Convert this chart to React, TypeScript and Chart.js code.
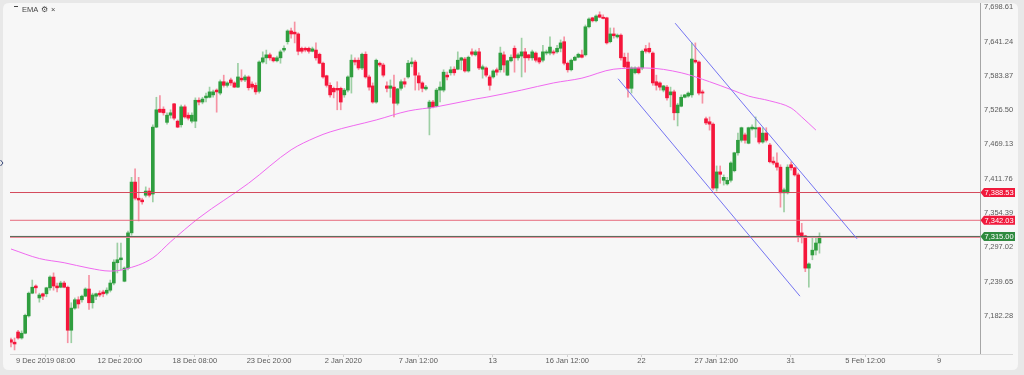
import React, { useEffect, useRef } from 'react';
import { Chart, registerables } from 'chart.js';

Chart.register(...registerables);

const FONT = "'Liberation Sans', Arial, sans-serif";

// ---- Candle data (4-hour candles) ----
const opens = [
  7142, 7138, 7155, 7145, 7153, 7182, 7220, 7232, 7212, 7219,
  7219, 7229, 7247, 7232, 7230, 7237, 7230, 7158, 7195, 7209,
  7209, 7215, 7227, 7204, 7215, 7220, 7222, 7220, 7225, 7237,
  7271, 7276, 7240, 7262, 7321, 7406, 7379, 7376, 7384, 7391,
  7386, 7498, 7528, 7528, 7506, 7518, 7537, 7508, 7502, 7532,
  7518, 7508, 7508, 7543, 7540, 7547, 7548, 7552, 7560, 7555,
  7574, 7568, 7577, 7572, 7565, 7580, 7577, 7582, 7570, 7568,
  7558, 7607, 7614, 7619, 7614, 7609, 7614, 7627, 7641, 7659,
  7657, 7654, 7630, 7630, 7630, 7625, 7627, 7620, 7605, 7584,
  7568, 7563, 7563, 7563, 7552, 7560, 7582, 7610, 7610, 7597,
  7620, 7582, 7567, 7540, 7605, 7602, 7567, 7563, 7565, 7538,
  7563, 7574, 7582, 7604, 7607, 7584, 7572, 7562, 7530, 7540,
  7533, 7560, 7560, 7585, 7589, 7595, 7595, 7610, 7612, 7592,
  7624, 7619, 7624, 7595, 7597, 7582, 7582, 7594, 7594, 7619,
  7585, 7609, 7630, 7614, 7617, 7624, 7619, 7614, 7622, 7614,
  7610, 7622, 7622, 7624, 7624, 7630, 7641, 7605, 7594, 7610,
  7615, 7619, 7619, 7666, 7681, 7676, 7686, 7682, 7681, 7641,
  7654, 7649, 7652, 7615, 7607, 7563, 7589, 7597, 7597, 7629,
  7630, 7622, 7574, 7572, 7560, 7565, 7552, 7557, 7522, 7533,
  7548, 7550, 7552, 7610, 7607, 7557, 7512, 7507, 7503, 7396,
  7423, 7409, 7403, 7409, 7425, 7455, 7476, 7485, 7471, 7495,
  7495, 7497, 7473, 7488, 7468, 7441, 7438, 7431, 7388, 7388,
  7435, 7430, 7418, 7321, 7316, 7262, 7284, 7292, 7304,
];
const highs = [
  7145, 7145, 7158, 7157, 7185, 7222, 7242, 7234, 7220, 7220,
  7230, 7249, 7254, 7237, 7240, 7240, 7232, 7204, 7212, 7214,
  7217, 7229, 7250, 7220, 7220, 7224, 7225, 7229, 7242, 7276,
  7304, 7304, 7264, 7324, 7414, 7428, 7414, 7379, 7398, 7396,
  7502, 7548, 7551, 7532, 7522, 7527, 7538, 7510, 7535, 7535,
  7522, 7522, 7547, 7547, 7548, 7555, 7565, 7560, 7562, 7577,
  7585, 7574, 7580, 7574, 7605, 7594, 7585, 7584, 7574, 7572,
  7609, 7624, 7627, 7622, 7615, 7617, 7627, 7634, 7661, 7664,
  7674, 7656, 7632, 7632, 7632, 7632, 7639, 7622, 7607, 7585,
  7572, 7565, 7574, 7565, 7563, 7584, 7619, 7614, 7614, 7622,
  7624, 7585, 7572, 7612, 7607, 7605, 7574, 7577, 7585, 7563,
  7577, 7580, 7610, 7614, 7610, 7589, 7574, 7568, 7543, 7543,
  7563, 7574, 7594, 7590, 7599, 7599, 7624, 7615, 7615, 7617,
  7629, 7627, 7630, 7602, 7599, 7585, 7594, 7597, 7632, 7624,
  7610, 7619, 7634, 7622, 7647, 7630, 7620, 7627, 7624, 7615,
  7635, 7627, 7649, 7627, 7635, 7644, 7649, 7607, 7612, 7617,
  7622, 7627, 7669, 7681, 7682, 7686, 7691, 7686, 7682, 7664,
  7664, 7654, 7654, 7622, 7622, 7599, 7599, 7599, 7627, 7635,
  7639, 7624, 7585, 7574, 7568, 7568, 7565, 7560, 7538, 7552,
  7553, 7557, 7639, 7639, 7609, 7560, 7515, 7515, 7505, 7433,
  7433, 7418, 7414, 7440, 7456, 7488, 7498, 7488, 7498, 7502,
  7515, 7498, 7497, 7497, 7471, 7448, 7455, 7435, 7396, 7435,
  7440, 7431, 7421, 7337, 7317, 7271, 7312, 7312, 7321,
];
const lows = [
  7130, 7125, 7143, 7143, 7152, 7180, 7219, 7220, 7205, 7209,
  7214, 7225, 7225, 7222, 7229, 7229, 7137, 7137, 7193, 7195,
  7205, 7214, 7193, 7195, 7209, 7214, 7214, 7217, 7222, 7234,
  7254, 7259, 7239, 7259, 7317, 7376, 7341, 7369, 7381, 7381,
  7373, 7497, 7522, 7518, 7503, 7513, 7510, 7497, 7498, 7513,
  7510, 7505, 7497, 7535, 7537, 7540, 7547, 7548, 7523, 7552,
  7565, 7565, 7568, 7564, 7564, 7574, 7574, 7560, 7562, 7553,
  7555, 7605, 7604, 7610, 7607, 7607, 7605, 7624, 7637, 7647,
  7639, 7619, 7622, 7624, 7622, 7624, 7610, 7604, 7580, 7565,
  7548, 7547, 7527, 7527, 7548, 7557, 7555, 7602, 7594, 7594,
  7580, 7560, 7538, 7538, 7599, 7582, 7557, 7548, 7515, 7535,
  7560, 7565, 7580, 7599, 7560, 7560, 7557, 7560, 7485, 7530,
  7532, 7540, 7557, 7577, 7585, 7585, 7594, 7594, 7590, 7590,
  7617, 7617, 7594, 7580, 7582, 7560, 7580, 7585, 7590, 7590,
  7584, 7607, 7590, 7610, 7582, 7590, 7610, 7610, 7607, 7604,
  7607, 7619, 7619, 7619, 7622, 7624, 7602, 7590, 7592, 7609,
  7614, 7614, 7617, 7664, 7674, 7674, 7681, 7679, 7637, 7639,
  7647, 7647, 7610, 7597, 7548, 7555, 7587, 7587, 7594, 7622,
  7622, 7568, 7560, 7560, 7557, 7543, 7532, 7510, 7500, 7532,
  7547, 7548, 7548, 7605, 7552, 7538, 7502, 7493, 7393, 7391,
  7404, 7401, 7401, 7406, 7423, 7451, 7473, 7471, 7470, 7493,
  7481, 7470, 7471, 7473, 7438, 7435, 7426, 7364, 7356, 7386,
  7426, 7416, 7306, 7304, 7256, 7230, 7276, 7284, 7287,
];
const closes = [
  7138, 7135, 7145, 7153, 7183, 7220, 7230, 7229, 7217, 7215,
  7229, 7247, 7232, 7229, 7237, 7230, 7158, 7195, 7209, 7202,
  7215, 7227, 7204, 7217, 7219, 7217, 7219, 7225, 7237, 7272,
  7276, 7279, 7262, 7321, 7406, 7379, 7376, 7373, 7391, 7384,
  7498, 7527, 7523, 7522, 7518, 7522, 7513, 7498, 7532, 7515,
  7513, 7518, 7543, 7540, 7545, 7550, 7557, 7557, 7557, 7574,
  7568, 7572, 7572, 7565, 7582, 7577, 7582, 7564, 7565, 7557,
  7607, 7614, 7619, 7614, 7609, 7614, 7624, 7630, 7659, 7654,
  7654, 7625, 7625, 7627, 7625, 7629, 7614, 7605, 7582, 7568,
  7552, 7557, 7560, 7540, 7560, 7582, 7610, 7607, 7597, 7620,
  7582, 7565, 7540, 7610, 7602, 7585, 7563, 7567, 7538, 7562,
  7574, 7570, 7605, 7607, 7585, 7572, 7563, 7565, 7540, 7532,
  7560, 7565, 7590, 7582, 7594, 7589, 7610, 7614, 7592, 7615,
  7620, 7624, 7597, 7599, 7585, 7568, 7592, 7590, 7622, 7602,
  7609, 7615, 7614, 7619, 7624, 7614, 7614, 7624, 7610, 7607,
  7624, 7624, 7632, 7622, 7630, 7639, 7605, 7594, 7610, 7615,
  7620, 7615, 7666, 7679, 7676, 7684, 7682, 7680, 7639, 7654,
  7651, 7652, 7614, 7599, 7563, 7597, 7597, 7589, 7625, 7625,
  7624, 7572, 7568, 7565, 7567, 7547, 7557, 7522, 7535, 7548,
  7552, 7555, 7612, 7607, 7555, 7555, 7505, 7503, 7396, 7423,
  7419, 7414, 7409, 7438, 7455, 7476, 7497, 7476, 7497, 7498,
  7497, 7473, 7488, 7476, 7440, 7438, 7431, 7388, 7393, 7431,
  7430, 7418, 7317, 7314, 7262, 7269, 7292, 7304, 7315,
];

// ---- EMA (sampled at candle indices) ----
const emaIdx = [0, 8, 15, 22, 28, 32, 40, 45, 53, 67, 79, 86, 90, 103, 112, 120, 131, 134, 144, 153, 161, 170, 179, 189, 197, 203, 208, 214, 220, 223, 227];
const emaVals = [7294, 7278, 7271, 7262, 7257, 7260, 7279, 7306, 7346, 7404, 7460, 7481, 7490, 7510, 7525, 7532, 7545, 7548, 7560, 7572, 7580, 7595, 7597, 7589, 7574, 7561, 7550, 7542, 7530, 7515, 7493];

// ---- Trend channel (candle index, price) ----
const upperChannelIdx = [187.3, 238.6];
const upperChannelVals = [7672, 7311];
const lowerChannelIdx = [171.2, 222.5];
const lowerChannelVals = [7579, 7215];

// ---- Horizontal levels ----
const redLevels = [7388.53, 7342.03, 7313.3];
const redLevelTags = [7388.53, 7342.03];
const lastPrice = 7315.0;

// ---- Axes ----
const xTickPos = [9.73, 30.68, 51.83, 72.76, 93.71, 114.86, 135.87, 156.88, 177.81, 198.87, 219.88, 240.92, 261.7];
const xTickLabels = ['9 Dec 2019 08:00', '12 Dec 20:00', '18 Dec 08:00', '23 Dec 20:00', '2 Jan 2020', '7 Jan 12:00', '13', '16 Jan 12:00', '22', '27 Jan 12:00', '31', '5 Feb 12:00', '9'];
const yTicks = [7182.28, 7239.65, 7297.02, 7354.39, 7411.76, 7469.13, 7526.5, 7583.87, 7641.24, 7698.61];

const X_MIN = -0.28;
const X_MAX = 273.27;
const Y_MIN = 7118.2;
const Y_MAX = 7705.8;

const fmt = (v: number) =>
  v.toLocaleString('en-US', { minimumFractionDigits: 2, maximumFractionDigits: 2 });

export default function App() {
  const ref = useRef<HTMLCanvasElement>(null);

  useEffect(() => {
    const canvas = ref.current;
    if (!canvas) return;
    const GREEN = '#2f9e3f';
    const RED = '#f5163b';
    const up = closes.map((c, i) => c >= opens[i]);

    const levelLine = (v: number, color: string) => ({
      type: 'line',
      data: [{ x: X_MIN, y: v }, { x: X_MAX, y: v }],
      borderColor: color,
      borderWidth: 1,
      pointRadius: 0,
      order: 0,
    });

    const datasets: any[] = [
      {
        type: 'bar',
        data: highs.map((h, i) => ({ x: i, y: [lows[i], h] })),
        backgroundColor: up.map((u) => (u ? 'rgba(47,158,63,0.45)' : 'rgba(245,22,59,0.45)')),
        barThickness: 1,
        minBarLength: 1,
        grouped: false,
        order: 3,
      },
      {
        type: 'bar',
        data: opens.map((o, i) => ({ x: i, y: [o, closes[i]] })),
        backgroundColor: up.map((u) => (u ? GREEN : RED)),
        barThickness: 3,
        minBarLength: 1,
        grouped: false,
        order: 2,
      },
      {
        type: 'line',
        data: emaIdx.map((x, i) => ({ x, y: emaVals[i] })),
        borderColor: '#f06af0',
        borderWidth: 1,
        pointRadius: 0,
        cubicInterpolationMode: 'monotone',
        order: 1,
      },
      {
        type: 'line',
        data: upperChannelIdx.map((x, i) => ({ x, y: upperChannelVals[i] })),
        borderColor: '#7474f2',
        borderWidth: 1,
        pointRadius: 0,
        order: 0,
      },
      {
        type: 'line',
        data: lowerChannelIdx.map((x, i) => ({ x, y: lowerChannelVals[i] })),
        borderColor: '#7474f2',
        borderWidth: 1,
        pointRadius: 0,
        order: 0,
      },
      levelLine(redLevels[0], '#d44a5c'),
      levelLine(redLevels[1], '#e66a7c'),
      levelLine(redLevels[2], '#ec8a98'),
      levelLine(lastPrice, '#4e6250'),
    ];

    const deco = {
      id: 'deco',
      beforeDraw(chart: any) {
        const { ctx, width, height } = chart;
        ctx.save();
        ctx.fillStyle = '#e8e8e8';
        ctx.fillRect(0, 0, width, height);
        ctx.fillStyle = '#f7f7f7';
        ctx.beginPath();
        const x = 3, y = 3, w = 1015, h = 367, r = 6;
        ctx.moveTo(x + r, y);
        ctx.lineTo(x + w - r, y);
        ctx.quadraticCurveTo(x + w, y, x + w, y + r);
        ctx.lineTo(x + w, y + h - r);
        ctx.quadraticCurveTo(x + w, y + h, x + w - r, y + h);
        ctx.lineTo(x + r, y + h);
        ctx.quadraticCurveTo(x, y + h, x, y + h - r);
        ctx.lineTo(x, y + r);
        ctx.quadraticCurveTo(x, y, x + r, y);
        ctx.closePath();
        ctx.fill();
        ctx.restore();
      },
      afterDraw(chart: any) {
        const { ctx, chartArea } = chart;
        const ys = chart.scales.y;
        ctx.save();
        // extension of the bottom axis line
        ctx.strokeStyle = '#d8d8d8';
        ctx.lineWidth = 1;
        ctx.beginPath();
        ctx.moveTo(chartArea.right, Math.round(chartArea.bottom) + 0.5);
        ctx.lineTo(1013, Math.round(chartArea.bottom) + 0.5);
        ctx.stroke();

        const tag = (v: number, color: string) => {
          const y = ys.getPixelForValue(v);
          const l = chartArea.right + 0.5;
          ctx.fillStyle = color;
          ctx.beginPath();
          ctx.moveTo(l, y);
          ctx.lineTo(l + 3.5, y - 4.5);
          ctx.lineTo(1015, y - 4.5);
          ctx.lineTo(1015, y + 4.5);
          ctx.lineTo(l + 3.5, y + 4.5);
          ctx.closePath();
          ctx.fill();
          ctx.fillStyle = '#ffffff';
          ctx.font = `7.5px ${FONT}`;
          ctx.textAlign = 'left';
          ctx.textBaseline = 'middle';
          ctx.fillText(fmt(v), 984.5, y + 0.5);
        };
        redLevelTags.forEach((v) => tag(v, '#f01a3c'));
        tag(lastPrice, '#2f8a3f');

        // legend (top-left)
        ctx.fillStyle = '#444';
        ctx.fillRect(14, 6, 4, 1);
        ctx.font = `7.5px ${FONT}`;
        ctx.textAlign = 'left';
        ctx.textBaseline = 'middle';
        ctx.fillText('EMA', 22, 10);
        ctx.font = `8px 'DejaVu Sans', sans-serif`;
        ctx.fillText('⚙', 41, 9.5);
        ctx.font = `7.5px ${FONT}`;
        ctx.fillText('×', 51, 10);

        // left edge marker
        ctx.strokeStyle = '#3a4a7a';
        ctx.beginPath();
        ctx.moveTo(0.5, 160);
        ctx.lineTo(3, 163);
        ctx.lineTo(0.5, 166);
        ctx.stroke();
        ctx.restore();
      },
    };

    const chart = new Chart(canvas, {
      type: 'bar',
      data: { datasets },
      options: {
        responsive: false,
        animation: false,
        devicePixelRatio: 1,
        events: [],
        layout: { padding: { left: 10, top: 3, right: 0, bottom: 0 } },
        plugins: { legend: { display: false }, tooltip: { enabled: false } },
        scales: {
          x: {
            type: 'linear',
            min: X_MIN,
            max: X_MAX,
            offset: false,
            grid: { drawOnChartArea: false, drawTicks: true, tickLength: 3, color: '#cfcfcf', offset: false },
            border: { display: true, color: '#d8d8d8' },
            ticks: {
              autoSkip: false,
              maxRotation: 0,
              minRotation: 0,
              padding: -1,
              color: '#5a5a5a',
              font: { family: FONT, size: 7.5 },
              callback: (_v: any, i: number) => xTickLabels[i] ?? '',
            },
            afterBuildTicks: (s: any) => {
              s.ticks = xTickPos.map((v) => ({ value: v }));
            },
            afterFit: (s: any) => {
              s.height = 21;
              s.paddingLeft = 0;
              s.paddingRight = 0;
            },
          },
          y: {
            type: 'linear',
            position: 'right',
            min: Y_MIN,
            max: Y_MAX,
            grid: { drawOnChartArea: false, drawTicks: false },
            border: { display: true, color: '#a6a6a6' },
            ticks: {
              autoSkip: false,
              padding: 4,
              color: '#5a5a5a',
              font: { family: FONT, size: 7.5 },
              callback: (v: any) => fmt(Number(v)),
            },
            afterBuildTicks: (s: any) => {
              s.ticks = yTicks.map((v) => ({ value: v }));
            },
            afterFit: (s: any) => {
              s.width = 44;
              s.paddingTop = 0;
              s.paddingBottom = 0;
            },
          },
        },
      } as any,
      plugins: [deco],
    });

    return () => chart.destroy();
  }, []);

  return (
    <div style={{ position: 'absolute', left: 0, top: 0, width: 1024, height: 375 }}>
      <canvas ref={ref} width={1024} height={375} style={{ display: 'block', width: 1024, height: 375 }} />
    </div>
  );
}
